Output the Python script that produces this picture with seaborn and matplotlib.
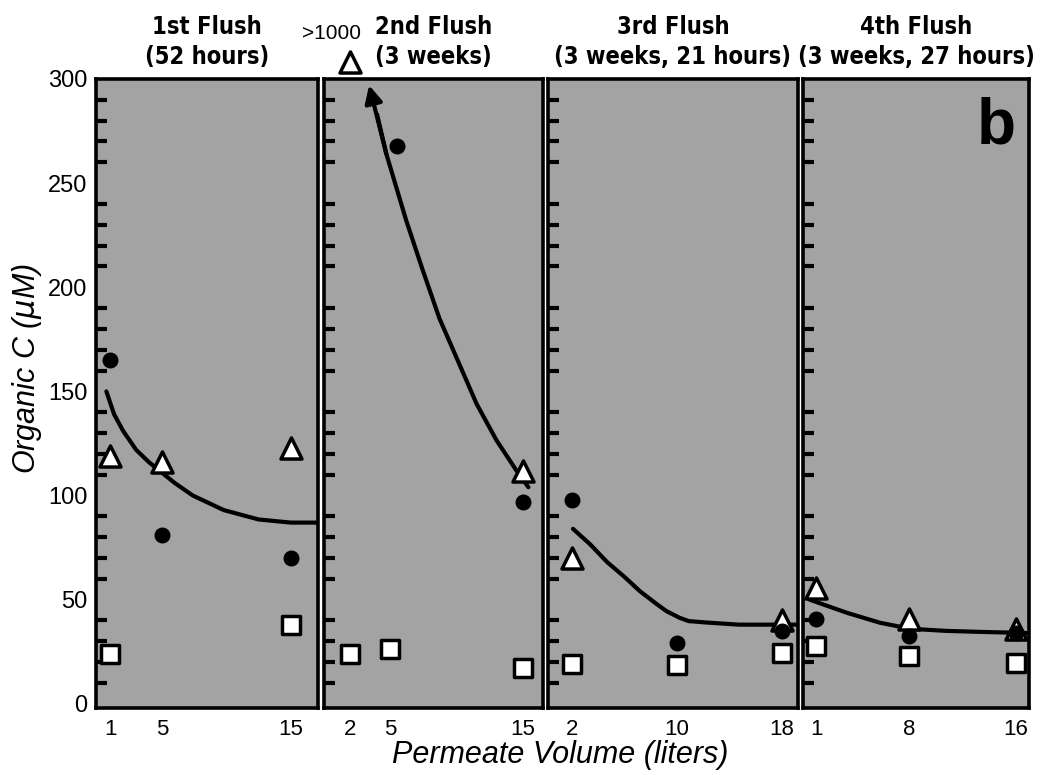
import matplotlib
matplotlib.use("Agg")
import matplotlib.pyplot as plt
from matplotlib.ticker import MultipleLocator
import seaborn as sns

# Panel titles
TITLES = ["1st Flush\n(52 hours)", "2nd Flush\n(3 weeks)",
          "3rd Flush\n(3 weeks, 21 hours)", "4th Flush\n(3 weeks, 27 hours)"]
XTICKS = [[1, 5, 15], [2, 5, 15], [2, 10, 18], [1, 8, 16]]
XLIMS = [(-0.1, 17.1), (0, 16.5), (0.2, 19.2), (0, 17.0)]

# 1st flush
F1_TRI_X, F1_TRI_Y = [1, 5, 15], [119, 116, 123]
F1_CIRC_X, F1_CIRC_Y = [1, 5, 15], [165, 81, 70]
F1_SQ_X, F1_SQ_Y = [1, 15], [24, 38]
F1_FIT_X = [0.7, 1.3, 2, 3, 4, 5, 6, 7.4, 9.8, 12.5, 15, 17.1]
F1_FIT_Y = [150, 139, 131, 122, 116, 111, 106, 100, 93, 88.5, 87, 87]

# 2nd flush
F2_TRI_X, F2_TRI_Y = [15], [112]
F2_CIRC_X, F2_CIRC_Y = [5.5, 15], [268, 97]
F2_SQ_X, F2_SQ_Y = [2, 5, 15], [24, 26.5, 17]
F2_FIT_X = [3.4, 4.0, 4.7, 6.2, 7.4, 8.7, 10.0, 11.5, 13.0, 14.5, 15.4]
F2_FIT_Y = [297, 283, 264, 232, 209, 185, 166, 144, 126.5, 112, 104]
OFFSCALE_X, OFFSCALE_Y, OFFSCALE_LABEL = 2, 308, ">1000"

# 3rd flush
F3_TRI_X, F3_TRI_Y = [2, 18], [70, 40]
F3_CIRC_X, F3_CIRC_Y = [2, 10, 18], [98, 29, 35]
F3_SQ_X, F3_SQ_Y = [2, 10, 18], [19, 18.7, 24.5]
F3_FIT_X = [2.1, 3.4, 4.7, 6.0, 7.2, 8.5, 9.2, 10.2, 10.9, 12.3, 14.7, 16.1, 19.2]
F3_FIT_Y = [84, 76.6, 68, 61, 54, 47.7, 44.5, 41.3, 39.7, 39, 38, 38, 38]

# 4th flush
F4_TRI_X, F4_TRI_Y = [1, 8, 16], [55.6, 40.7, 36]
F4_CIRC_X, F4_CIRC_Y = [1, 8, 16], [40.7, 32.5, 34]
F4_SQ_X, F4_SQ_Y = [1, 8, 16], [27.8, 23, 19.8]
F4_FIT_X = [0.5, 3.3, 5.8, 8.1, 10.8, 13.5, 16.8]
F4_FIT_Y = [50, 43.7, 38.9, 36, 35, 34.5, 34]

sns.set_style("white")
plt.rcParams['font.family'] = ['Liberation Sans', 'DejaVu Sans']
for key in ['text.color', 'axes.labelcolor', 'xtick.color', 'ytick.color']:
    plt.rcParams[key] = 'black'
TITLE_FONT = ['DejaVu Sans']

fig = plt.figure(figsize=(10.45, 7.75), dpi=100)
positions = [(0.0919, 0.0865, 0.2124, 0.8116),
             (0.3100, 0.0865, 0.2096, 0.8116),
             (0.5244, 0.0865, 0.2392, 0.8116),
             (0.7684, 0.0865, 0.2163, 0.8116)]
axes = [fig.add_axes(p) for p in positions]

panels = [
    (F1_TRI_X, F1_TRI_Y, F1_CIRC_X, F1_CIRC_Y, F1_SQ_X, F1_SQ_Y, F1_FIT_X, F1_FIT_Y),
    (F2_TRI_X, F2_TRI_Y, F2_CIRC_X, F2_CIRC_Y, F2_SQ_X, F2_SQ_Y, F2_FIT_X, F2_FIT_Y),
    (F3_TRI_X, F3_TRI_Y, F3_CIRC_X, F3_CIRC_Y, F3_SQ_X, F3_SQ_Y, F3_FIT_X, F3_FIT_Y),
    (F4_TRI_X, F4_TRI_Y, F4_CIRC_X, F4_CIRC_Y, F4_SQ_X, F4_SQ_Y, F4_FIT_X, F4_FIT_Y),
]

for i, (ax, p) in enumerate(zip(axes, panels)):
    tx, ty, cx, cy, sx, sy, fx, fy = p
    ax.set_facecolor('#a3a3a3')

    # fitted curve (panel 2 gets an arrow head at its upper end)
    if i == 1:
        sns.lineplot(x=fx[1:], y=fy[1:], ax=ax, color='black', lw=3,
                     sort=False, estimator=None, zorder=2)
        ax.annotate("", xy=(fx[0], fy[0]), xytext=(fx[2], fy[2]),
                    arrowprops=dict(arrowstyle='-|>', lw=3, color='black',
                                    mutation_scale=26, shrinkA=0, shrinkB=0))
    else:
        sns.lineplot(x=fx, y=fy, ax=ax, color='black', lw=3,
                     sort=False, estimator=None, zorder=2)

    sns.scatterplot(x=sx, y=sy, ax=ax, marker='s', s=150, color='white',
                    edgecolor='black', linewidth=2.5, zorder=3)
    sns.scatterplot(x=tx, y=ty, ax=ax, marker='^', s=230, color='white',
                    edgecolor='black', linewidth=2.5, zorder=3)
    sns.scatterplot(x=cx, y=cy, ax=ax, marker='o', s=110, color='black',
                    edgecolor='black', linewidth=1, zorder=4)

    ax.set_xlim(*XLIMS[i])
    ax.set_ylim(-2, 300)
    ax.set_xticks(XTICKS[i])
    ax.set_xticklabels([str(v) for v in XTICKS[i]], fontsize=16)
    ax.yaxis.set_major_locator(MultipleLocator(50))
    ax.yaxis.set_minor_locator(MultipleLocator(10))
    ax.tick_params(axis='x', direction='in', length=13, width=3, pad=8)
    ax.tick_params(axis='y', which='major', direction='in', length=11, width=3)
    ax.tick_params(axis='y', which='minor', direction='in', length=8, width=3, left=True)
    if i == 0:
        ax.tick_params(axis='y', labelsize=17, pad=6)
    else:
        ax.tick_params(axis='y', labelleft=False)
    for sp in ax.spines.values():
        sp.set_linewidth(2.6)
        sp.set_color('black')
    ax.set_xlabel('')
    ax.set_ylabel('')
    ax.set_title(TITLES[i], fontsize=17, fontweight='bold', family=TITLE_FONT,
                 fontstretch='condensed', linespacing=1.3, pad=11)

# off-scale value above the 2nd flush panel
ax2 = axes[1]
sns.scatterplot(x=[OFFSCALE_X], y=[OFFSCALE_Y], ax=ax2, marker='^', s=230,
                color='white', edgecolor='black', linewidth=2.5, clip_on=False,
                zorder=5)
ax2.text(0.6, 322, OFFSCALE_LABEL, fontsize=15, ha='center', va='center',
         clip_on=False)

axes[3].text(0.855, 0.925, 'b', transform=axes[3].transAxes, fontsize=46,
             fontweight='black', ha='center', va='center')

fig.text(0.026, 0.525, r'Organic C ($\mu$M)', rotation=90, fontsize=22,
         style='italic', ha='center', va='center')
fig.text(0.536, 0.026, 'Permeate Volume (liters)', fontsize=22,
         style='italic', ha='center', va='center')

fig.savefig('out.png', dpi=100)
